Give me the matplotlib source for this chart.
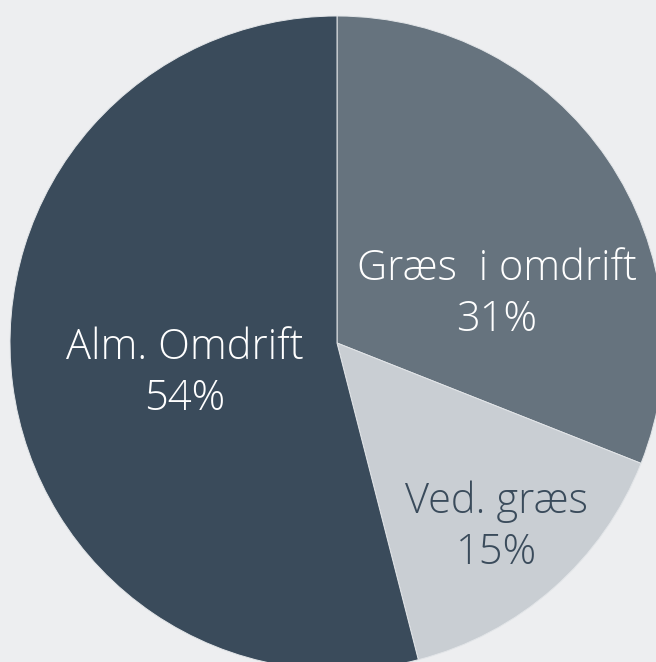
import matplotlib.pyplot as plt

labels = ['Græs  i omdrift', 'Ved. græs', 'Alm. Omdrift']
shares = [31, 15, 54]
colors = ['#66737e', '#c9ced3', '#3a4b5b']
text_colors = ['white', '#3a4b5b', 'white']
label_pos = [(0.489, 0.150), (0.489, -0.563), (-0.465, -0.092)]

plt.rcParams['font.family'] = ['Open Sans', 'DejaVu Sans']

fig = plt.figure(figsize=(6.56, 6.62), dpi=100, facecolor='#edeef0')
ax = fig.add_axes([0, 0, 1, 1])
ax.set_facecolor('#edeef0')

ax.pie(shares, colors=colors, startangle=90, counterclock=False, radius=1,
       wedgeprops=dict(edgecolor='#e2e5e8', linewidth=0.7))

for lab, val, (x, y), tc in zip(labels, shares, label_pos, text_colors):
    ax.text(x, y, f'{lab}\n{val}%', ha='center', va='center', color=tc,
            fontsize=30, fontweight='light', linespacing=1.25)

ax.set_xlim(-337 / 327, 319 / 327)
ax.set_ylim(-319 / 327, 343 / 327)
ax.set_aspect('auto')
ax.axis('off')

fig.savefig('out.png', dpi=100, facecolor=fig.get_facecolor())
